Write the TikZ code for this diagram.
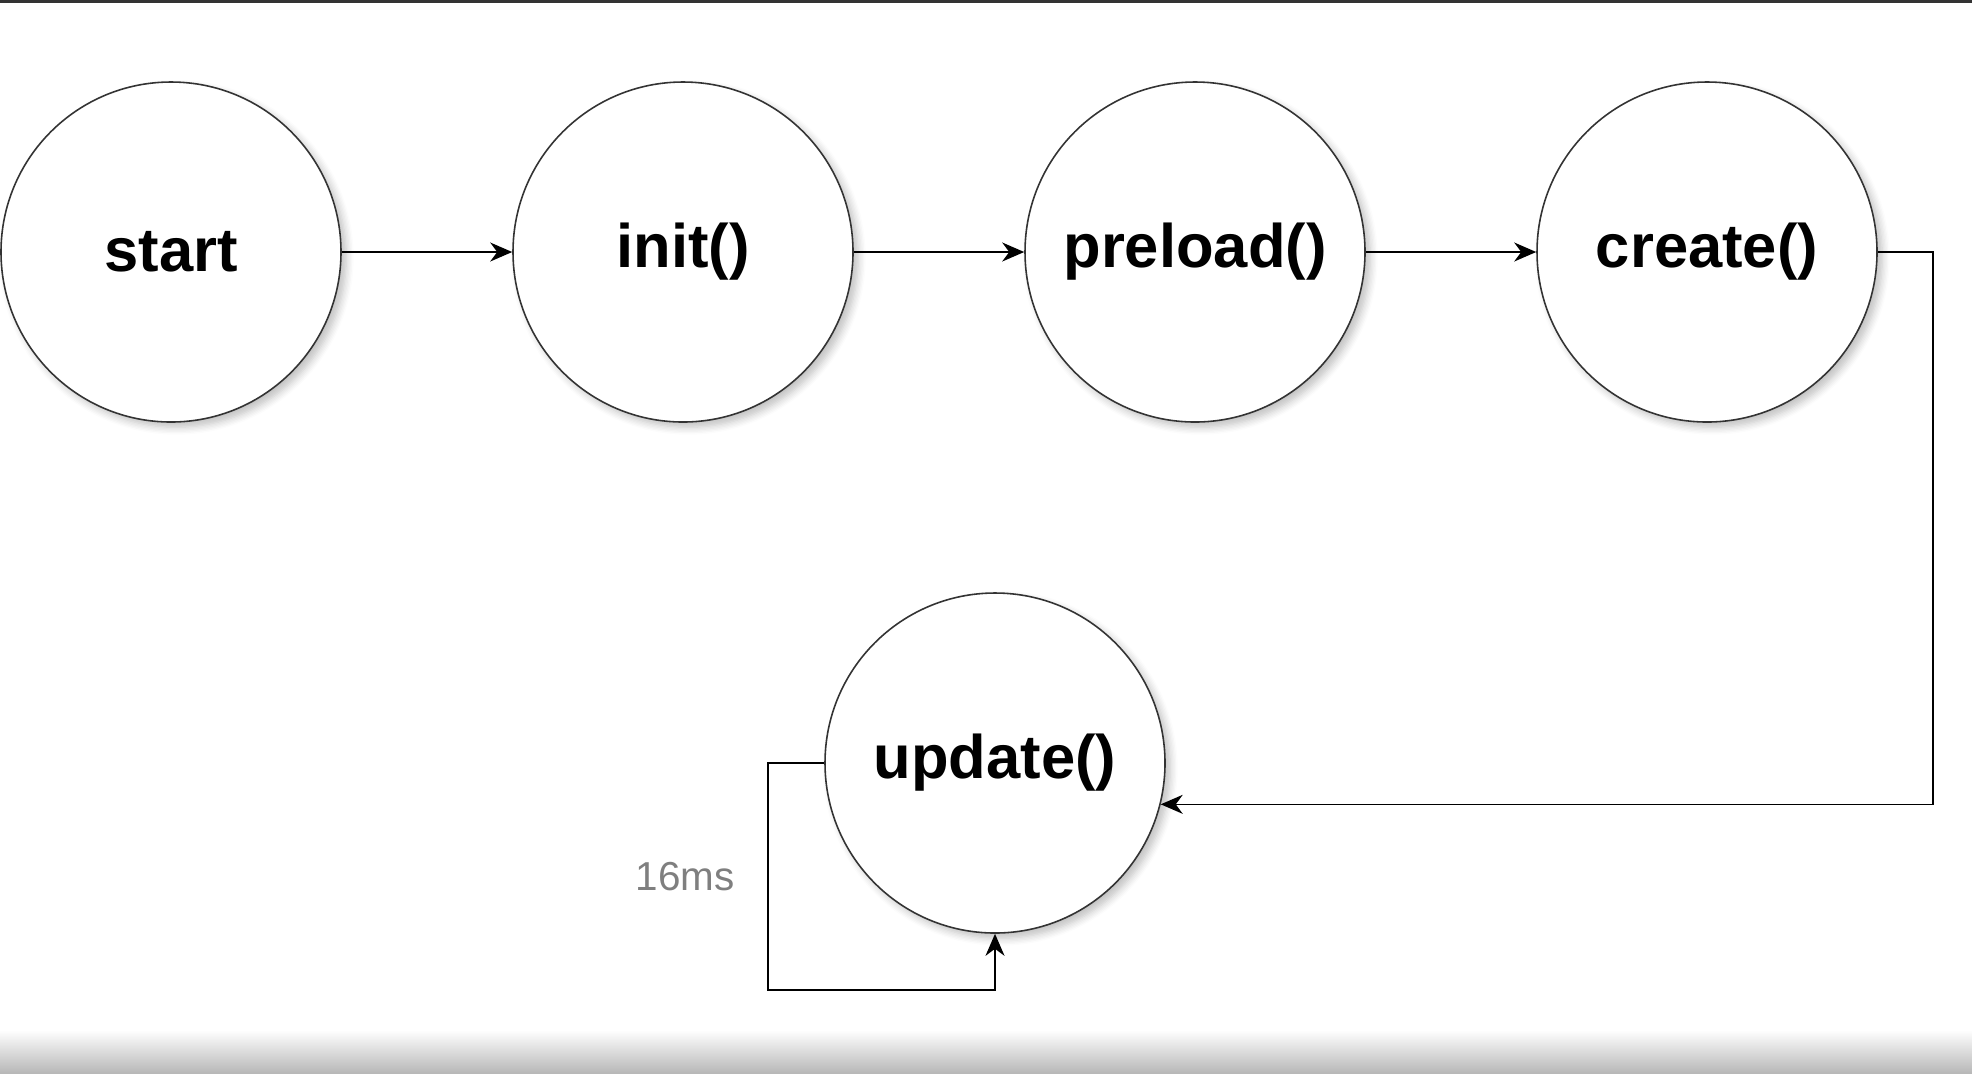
\documentclass[tikz,border=0pt]{standalone}
\usepackage{fontspec}
\setmainfont{Liberation Sans}
\usepackage{tikz}
\usetikzlibrary{positioning}
\usetikzlibrary{shapes,arrows.meta}
\usetikzlibrary{shadows.blur}
\definecolor{linegray}{HTML}{333333}
\definecolor{labelgray}{HTML}{7F7F7F}
\tikzset{%
  state/.style    = {draw=linegray, circle, fill=white, minimum size=3.4cm, inner sep=0pt,
    font=\fontsize{17.5}{21}\selectfont\bfseries,
    blur shadow={shadow xshift=1.5pt, shadow yshift=-1.5pt, shadow opacity=25, shadow blur steps=6}}, % Stage
  note/.style     = {text=labelgray, font=\fontsize{11.5}{14}\selectfont}, % Label
  turn/.style     = {coordinate} % Corner
}

\begin{document}
\begin{tikzpicture}[auto, line width=0.45pt, node distance=5.12cm, >={Stealth[length=2.2mm, width=1.9mm, inset=0.7mm]}]

  % frame of the screenshot
  \useasboundingbox (0,0) rectangle (19.72,-10.73);
  \shade[top color=white, bottom color=black!28] (0,-10.3) rectangle (19.72,-10.73);
  \fill[linegray] (0,0) rectangle (19.72,-0.025);

  \draw node at (1.71,-2.52) [state] (start) {start};
  \draw node [state, right of=start] (init) {init()};
  \draw node [state, right of=init] (preload) {preload()};
  \draw node [state, right of=preload] (create) {create()};

  \draw node at (9.95,-7.63) [state] (update) {update()};
  \draw node at (6.85,-8.77) [note] (delay) {16ms};

  \draw node at (19.33,-2.52) [turn] (back) {};
  \draw node at (7.68,-9.90) [turn] (loop) {};

  \draw[->] (start) -- (init);
  \draw[->] (init) -- (preload);
  \draw[->] (preload) -- (create);
  \draw[->] (create) -- (back) |- (update.-14.3);

  % game loop
  \draw[->] (update.west) -| (loop) -| (update.south);

\end{tikzpicture}
\end{document}
